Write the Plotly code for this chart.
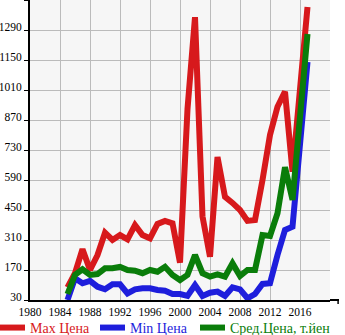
import plotly.graph_objects as go

# Price history by model year (thousand yen)
years = [1985, 1986, 1987, 1988, 1989, 1990, 1991, 1992, 1993, 1994, 1995,
         1996, 1997, 1998, 1999, 2000, 2001, 2002, 2003, 2004, 2005, 2006,
         2007, 2008, 2009, 2010, 2011, 2012, 2013, 2014, 2015, 2017]

max_price = [89, 155, 267, 170, 240, 344, 310, 333, 313, 380, 333,
             318, 385, 399, 388, 204, 921, 1350, 420, 232, 697, 511,
             483, 450, 399, 403, 590, 800, 932, 1002, 629, 1397]

min_price = [30, 131, 108, 119, 92, 80, 103, 103, 61, 80, 85,
             85, 77, 73, 58, 58, 49, 100, 49, 64, 69, 49,
             89, 80, 38, 58, 105, 108, 240, 357, 372, 1141]

avg_price = [58, 147, 173, 147, 151, 178, 178, 185, 170, 167, 155,
             170, 162, 185, 147, 123, 147, 240, 155, 139, 150, 139,
             201, 142, 170, 170, 333, 329, 435, 650, 497, 1271]

x_ticks = list(range(1980, 2021, 4))
x_tick_text = [str(v) for v in x_ticks[:-1]] + [""]
y_ticks = list(range(30, 1431, 140))
y_tick_text = [str(v) for v in y_ticks[:-1]] + [""]

series = [
    ("Мах Цена", max_price, "#d7191c", "legend"),
    ("Min Цена", min_price, "#1e1edc", "legend2"),
    ("Сред.Цена, т.йен", avg_price, "#0a7d0a", "legend3"),
]

fig = go.Figure()
for name, vals, color, leg in series:
    fig.add_trace(go.Scatter(
        x=years, y=vals, mode="lines",
        name=f'<span style="color:{color}">{name}</span>',
        line=dict(color=color, width=6),
        legend=leg, hoverinfo="skip",
    ))

font_family = "Liberation Serif"


def legend_box(x):
    # one legend per series, laid out in a single row under the axis
    return dict(
        orientation="h", xref="container", yref="container",
        x=x, xanchor="left", y=0.021, yanchor="middle",
        font=dict(family=font_family, size=14),
        bgcolor="rgba(0,0,0,0)", itemwidth=30, indentation=-10,
    )


fig.update_layout(
    width=345, height=335,
    margin=dict(l=30, r=15, t=0, b=35, pad=0, autoexpand=False),
    paper_bgcolor="white",
    plot_bgcolor="#f6f6f6",
    font=dict(family=font_family, size=12, color="black"),
    showlegend=True,
    legend=legend_box(0),
    legend2=legend_box(100 / 345),
    legend3=legend_box(200 / 345),
    xaxis=dict(
        range=[1980, 2020], tickvals=x_ticks, ticktext=x_tick_text,
        showgrid=True, gridcolor="#bbbbbb", gridwidth=1,
        showline=True, linecolor="black", linewidth=2,
        ticks="", zeroline=False, fixedrange=True, automargin=False,
        tickfont=dict(family=font_family, size=11.5),
    ),
    yaxis=dict(
        range=[30, 1430], tickvals=y_ticks, ticktext=y_tick_text,
        showgrid=True, gridcolor="#bbbbbb", gridwidth=1,
        showline=True, linecolor="black", linewidth=2,
        ticks="outside", ticklen=4, tickwidth=1, tickcolor="black",
        ticklabelstandoff=0, ticklabelshift=-3,
        zeroline=False, fixedrange=True, automargin=False,
        tickfont=dict(family=font_family, size=11.5),
    ),
)

# short axis-line extension with an end tick past the plot frame
fig.add_shape(type="line", xref="paper", yref="paper",
              x0=1.0, x1=1.03, y0=0, y1=0,
              line=dict(color="black", width=2), layer="above")
fig.add_shape(type="line", xref="paper", yref="paper",
              x0=1.027, x1=1.027, y0=0, y1=-0.013,
              line=dict(color="black", width=1.5), layer="above")

fig.write_html("out.html", config={"displayModeBar": False})
